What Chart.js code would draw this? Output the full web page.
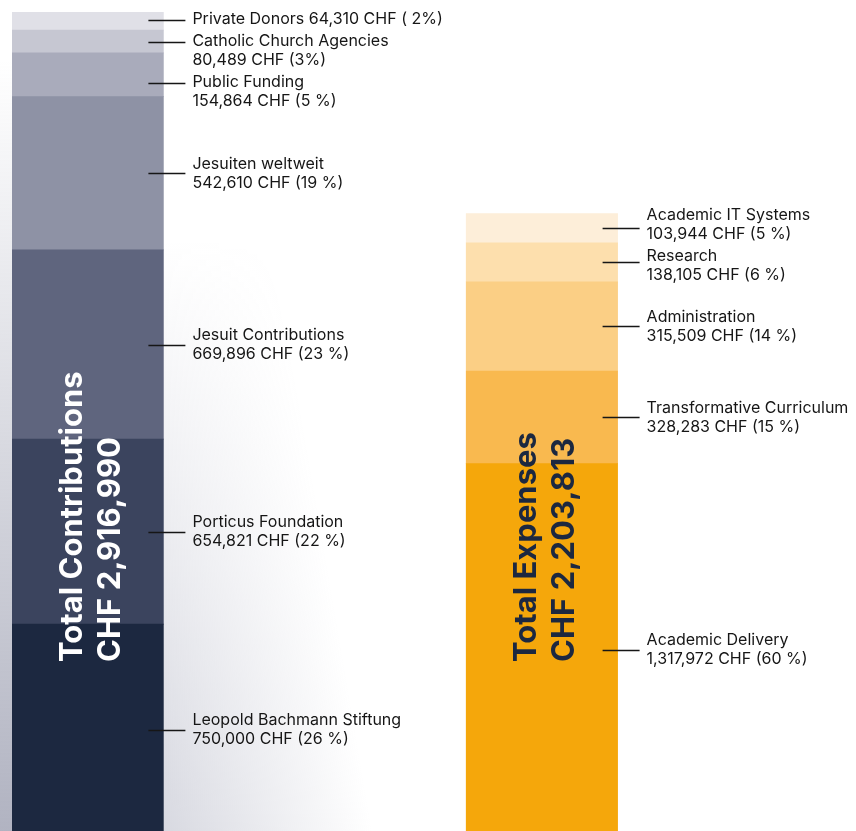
<!DOCTYPE html>
<html>
<head>
<meta charset="utf-8">
<script src="https://cdn.jsdelivr.net/npm/chart.js@4.4.1/dist/chart.umd.min.js"></script>
<style>
html, body { margin: 0; padding: 0; background: #fff; overflow: hidden; }
canvas { display: block; }
</style>
</head>
<body>
<canvas id="budget" width="856" height="836"></canvas>
<script>
// five slots so the two bars land where they sit in the report
const slots = ['Total Contributions', '', '', 'Total Expenses', ''];

// contributions, bottom to top
const incomeNames = ['Leopold Bachmann Stiftung', 'Porticus Foundation', 'Jesuit Contributions', 'Jesuiten weltweit', 'Public Funding', 'Catholic Church Agencies', 'Private Donors'];
const incomeValues = [750000, 654821, 669896, 542610, 154864, 80489, 64310];
const incomePct = ['(26 %)', '(22 %)', '(23 %)', '(19 %)', '(5 %)', '(3%)', '( 2%)'];
const incomeColors = ['#1c2840', '#3b445e', '#5f657e', '#8e92a5', '#a9abbb', '#c6c7d2', '#e0e0e7'];

// expenses, bottom to top
const expenseNames = ['Academic Delivery', 'Transformative Curriculum', 'Administration', 'Research', 'Academic IT Systems'];
const expenseValues = [1317972, 328283, 315509, 138105, 103944];
const expensePct = ['(60 %)', '(15 %)', '(14 %)', '(6 %)', '(5 %)'];
const expenseColors = ['#f5a70b', '#f9b94f', '#fbcf85', '#fddfad', '#fdeed9'];

const singleLine = ['Private Donors'];
const totalTitles = ['Total Contributions', 'Total Expenses'];
const totalColors = ['#ffffff', '#1c2840'];

const fmt = v => v.toLocaleString('en-US');
const totalIncome = incomeValues.reduce((a, b) => a + b, 0);
const totalExpenses = expenseValues.reduce((a, b) => a + b, 0);

function makeSets(names, values, pcts, colors, slot) {
    return names.map((name, i) => {
        const data = slots.map(() => null);
        data[slot] = values[i];
        const valueText = fmt(values[i]) + ' CHF ' + pcts[i];
        return {
            label: name,
            data: data,
            backgroundColor: colors[i],
            borderWidth: 0,
            stack: 'all',
            lines: singleLine.includes(name) ? [name + ' ' + valueText] : [name, valueText]
        };
    });
}

const datasets = [
    ...makeSets(incomeNames, incomeValues, incomePct, incomeColors, 0),
    ...makeSets(expenseNames, expenseValues, expensePct, expenseColors, 3)
];

// grey shading around the contributions bar
const shadowPlugin = {
    id: 'shadow',
    beforeDatasetsDraw(chart) {
        const ctx = chart.ctx;
        const bar = chart.getDatasetMeta(0).data[0];
        const left = bar.x - bar.width / 2;
        const right = bar.x + bar.width / 2;
        const bottom = chart.height;
        ctx.save();
        const g = ctx.createLinearGradient(0, 60, 0, bottom);
        g.addColorStop(0, 'rgba(150,153,172,0)');
        g.addColorStop(1, 'rgba(150,153,172,0.75)');
        ctx.fillStyle = g;
        ctx.fillRect(0, 0, left, bottom);
        for (let y = 240; y < bottom; y++) {
            const t = (y - 240) / (bottom - 240);
            const w = 110 + 100 * t;
            const h = ctx.createLinearGradient(right, 0, right + w, 0);
            h.addColorStop(0, 'rgba(160,163,182,' + (0.42 * t) + ')');
            h.addColorStop(1, 'rgba(160,163,182,0)');
            ctx.fillStyle = h;
            ctx.fillRect(right, y, w, 1);
        }
        ctx.restore();
    }
};

const LINE_H = 19;

// totals written up the bars + leader-line labels on the right
const labelPlugin = {
    id: 'segLabels',
    afterDatasetsDraw(chart) {
        const ctx = chart.ctx;
        const groups = {};
        chart.data.datasets.forEach((ds, i) => {
            const idx = ds.data.findIndex(v => v != null);
            const el = chart.getDatasetMeta(i).data[idx];
            const mid = (el.y + el.base) / 2;
            (groups[idx] = groups[idx] || []).push({
                el: el, lines: ds.lines, mid: mid,
                first: mid - (ds.lines.length - 1) * LINE_H / 2
            });
        });

        Object.keys(groups).forEach((key, g) => {
            const items = groups[key].sort((a, b) => a.mid - b.mid);
            const el = items[0].el;
            const left = el.x - el.width / 2;
            const right = el.x + el.width / 2;
            const bottom = chart.chartArea.bottom;
            const top = chart.chartArea.top;

            // vertical total
            ctx.save();
            ctx.translate(left, bottom - 174);
            ctx.rotate(-Math.PI / 2);
            ctx.font = 'bold 31px Inter';
            ctx.fillStyle = totalColors[g];
            ctx.textBaseline = 'alphabetic';
            ctx.fillText(totalTitles[g], 0, 70);
            ctx.fillText('CHF ' + fmt(g === 0 ? totalIncome : totalExpenses), 0, 108);
            ctx.restore();

            // push crowded text blocks apart
            const last = it => it.first + (it.lines.length - 1) * LINE_H;
            for (let it = 0; it < 60; it++) {
                if (items[0].first < top + 7) items[0].first = top + 7;
                for (let k = 0; k < items.length - 1; k++) {
                    const d = items[k + 1].first - last(items[k]);
                    if (d < 22) {
                        const s = (22 - d) / 2;
                        const pinned = items[k].first - s < top + 7;
                        if (pinned) {
                            items[k + 1].first += 22 - d;
                        } else {
                            items[k].first -= s;
                            items[k + 1].first += s;
                        }
                    }
                }
            }

            ctx.save();
            ctx.strokeStyle = '#161616';
            ctx.lineWidth = 1.3;
            ctx.fillStyle = '#161616';
            ctx.font = '16px Inter';
            ctx.textBaseline = 'middle';
            items.forEach(item => {
                const ly = Math.min(Math.max(item.mid, item.first), last(item));
                const y = Math.round(ly) + 0.5;
                ctx.beginPath();
                ctx.moveTo(right - 15, y);
                ctx.lineTo(right + 22, y);
                ctx.stroke();
                item.lines.forEach((line, j) => {
                    ctx.fillText(line, right + 29, item.first + j * LINE_H);
                });
            });
            ctx.restore();
        });
    }
};

new Chart(document.getElementById('budget'), {
    type: 'bar',
    data: { labels: slots, datasets: datasets },
    options: {
        responsive: false,
        animation: false,
        devicePixelRatio: 1,
        layout: { padding: { left: 12, right: 87, top: 12, bottom: 0 } },
        datasets: { bar: { barPercentage: 1, categoryPercentage: 1 } },
        scales: {
            x: { stacked: true, display: false },
            y: { stacked: true, display: false, min: 0, max: Math.max(totalIncome, totalExpenses) }
        },
        plugins: { legend: { display: false }, tooltip: { enabled: false } }
    },
    plugins: [shadowPlugin, labelPlugin]
});
</script>
</body>
</html>
